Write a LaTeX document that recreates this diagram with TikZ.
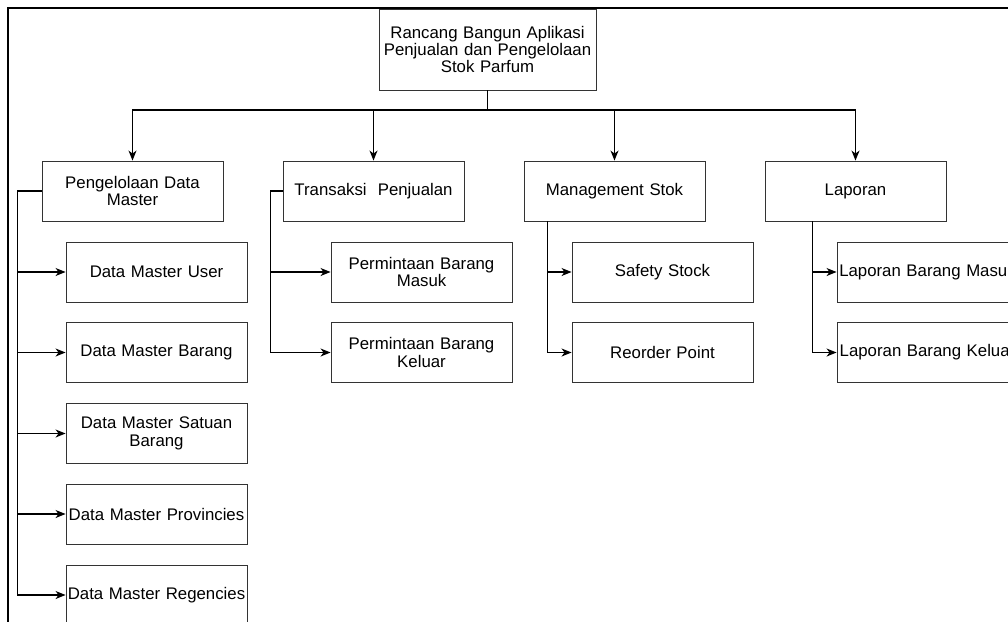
\documentclass[tikz,border=0pt]{standalone}
\usepackage{fontspec}
\setmainfont{Liberation Sans}
\usetikzlibrary{arrows.meta}
\usetikzlibrary{calc}

\begin{document}
\begin{tikzpicture}[x=1pt, y=-1pt,
    box/.style={rectangle, draw=black!80, line width=0.9pt, minimum width=181pt, minimum height=60pt,
        text width=178pt, inner xsep=1.5pt, inner ysep=0pt, align=center,
        font=\fontsize{16.8}{17.4}\selectfont},
    arrow/.style={draw=black, line width=1.1pt, -{Stealth[length=10pt, width=8pt, inset=3pt]}}]
    \clip (0,0) rectangle (1008,621);
    \draw[line width=1.6pt] (8,640) -- (8,8) -- (1030,8);
    \node (root) [box, minimum width=217pt, text width=214pt, minimum height=81pt] at (487.5,49.5) {Rancang Bangun Aplikasi\\Penjualan dan Pengelolaan\\Stok Parfum};
    \node (pdm) [box] at (132.5,191) {Pengelolaan Data\\Master};
    \node (tp) [box] at (373.5,191) {Transaksi\ \ Penjualan};
    \node (ms) [box] at (614.5,191) {Management Stok};
    \node (lap) [box] at (855.5,191) {Laporan};
    \node (dmu) [box] at (156.5,272) {Data Master User};
    \node (dmb) [box] at (156.5,352.5) {Data Master Barang};
    \node (dms) [box] at (156.5,433.5) {Data Master Satuan\\Barang};
    \node (dmp) [box] at (156.5,514) {Data Master Provincies};
    \node (dmr) [box] at (156.5,595) {Data Master Regencies};
    \node (pbm) [box] at (421.5,272) {Permintaan Barang\\Masuk};
    \node (pbk) [box] at (421.5,352.5) {Permintaan Barang\\Keluar};
    \node (ss) [box] at (662.5,272) {Safety Stock};
    \node (rp) [box] at (662.5,352.5) {Reorder Point};
    \node (lbm) [box] at (927.5,272) {Laporan Barang Masuk};
    \node (lbk) [box] at (927.5,352.5) {Laporan Barang Keluar};
    \coordinate (bus) at (487.5,110);
    \foreach \n in {pdm,tp,ms,lap}
        \draw[arrow] (root.south) -- (bus) -| (\n.north);
    \foreach \n in {dmu,dmb,dms,dmp,dmr}
        \draw[arrow] (pdm.west) -- ++(-24,0) |- (\n.west);
    \foreach \n in {pbm,pbk}
        \draw[arrow] (tp.west) -- ++(-12,0) |- (\n.west);
    \foreach \n in {ss,rp}
        \draw[arrow] (ms.south -| ss.west) ++(-24,0) |- (\n.west);
    \foreach \n in {lbm,lbk}
        \draw[arrow] (lap.south -| lbm.west) ++(-24,0) |- (\n.west);
\end{tikzpicture}
\end{document}
